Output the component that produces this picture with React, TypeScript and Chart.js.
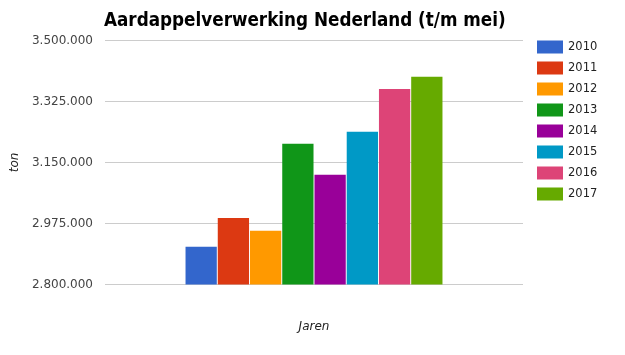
import React, { useEffect, useRef } from "react";
import { Chart, registerables } from "chart.js";

Chart.register(...registerables);

const titleText = "Aardappelverwerking Nederland (t/m mei)";
const categories = [""];
const seriesLabels = ["2010", "2011", "2012", "2013", "2014", "2015", "2016", "2017"];
const seriesValues = [2908000, 2991000, 2954000, 3204000, 3115000, 3238000, 3361000, 3396000];
const seriesColors = ["#3366cc", "#dc3912", "#ff9900", "#109618", "#990099", "#0099c6", "#dd4477", "#66aa00"];
const yMin = 2800000;
const yMax = 3500000;
const yStep = 175000;
const xAxisTitle = "Jaren";
const yAxisTitle = "ton";

function formatNL(v: number): string {
  return Math.round(v).toString().replace(/\B(?=(\d{3})+(?!\d))/g, ".");
}

const titlePlugin = {
  id: "customTitle",
  afterDraw(chart: any) {
    const { ctx, chartArea } = chart;
    ctx.save();
    ctx.font = "bold 18.7px 'DejaVu Sans Condensed', 'DejaVu Sans', sans-serif";
    ctx.fillStyle = "#000000";
    ctx.textAlign = "left";
    ctx.textBaseline = "alphabetic";
    ctx.fillText(titleText, chartArea.left - 1, 26);
    ctx.restore();
  },
};

const legendPlugin = {
  id: "customLegend",
  afterDraw(chart: any) {
    const { ctx, chartArea } = chart;
    const x0 = chartArea.right + 14;
    const y0 = chartArea.top;
    ctx.save();
    ctx.font = "11.5px 'DejaVu Sans', sans-serif";
    ctx.textAlign = "left";
    ctx.textBaseline = "middle";
    chart.data.datasets.forEach((ds: any, i: number) => {
      const y = y0 + i * 21;
      ctx.fillStyle = ds.backgroundColor;
      ctx.fillRect(x0, y, 26, 13);
      ctx.fillStyle = "#222222";
      ctx.fillText(ds.label, x0 + 31, y + 7);
    });
    ctx.restore();
  },
};

export default function App() {
  const ref = useRef<HTMLCanvasElement | null>(null);
  useEffect(() => {
    if (!ref.current) return;
    const chart = new Chart(ref.current, {
      type: "bar",
      data: {
        labels: categories,
        datasets: seriesLabels.map((label, i) => ({
          label,
          data: [seriesValues[i]],
          backgroundColor: seriesColors[i],
          borderWidth: 0,
          categoryPercentage: 0.617,
          barPercentage: 0.97,
        })),
      },
      options: {
        responsive: false,
        animation: false,
        layout: { padding: { top: 40.5, left: 0, right: 102, bottom: 0 } },
        plugins: {
          legend: { display: false },
          title: { display: false },
          tooltip: { enabled: false },
        },
        scales: {
          x: {
            grid: { display: false, drawTicks: false },
            border: { display: false },
            ticks: { display: false },
            title: {
              display: true,
              text: xAxisTitle,
              color: "#222222",
              font: { family: "'DejaVu Sans', sans-serif", size: 12, style: "italic" },
              padding: { top: 0, bottom: 20.8 },
            },
            afterFit(scale: any) {
              scale.height = 70.5;
            },
          },
          y: {
            min: yMin,
            max: yMax,
            grid: { color: "#cccccc", drawTicks: false },
            border: { display: false },
            ticks: {
              stepSize: yStep,
              padding: 12,
              color: "#444444",
              font: { family: "'DejaVu Sans', sans-serif", size: 12 },
              callback: (v: any) => formatNL(Number(v)),
            },
            title: {
              display: true,
              text: yAxisTitle,
              color: "#222222",
              font: { family: "'DejaVu Sans', sans-serif", size: 12, style: "italic" },
              padding: { top: 7.8, bottom: 0 },
            },
            afterFit(scale: any) {
              scale.width = 105;
            },
          },
        },
      },
      plugins: [titlePlugin, legendPlugin],
    });
    return () => chart.destroy();
  }, []);
  return (
    <div style={{ position: "absolute", left: 0, top: 0, width: 625, height: 355, background: "#ffffff" }}>
      <canvas ref={ref} width={625} height={355} />
    </div>
  );
}
